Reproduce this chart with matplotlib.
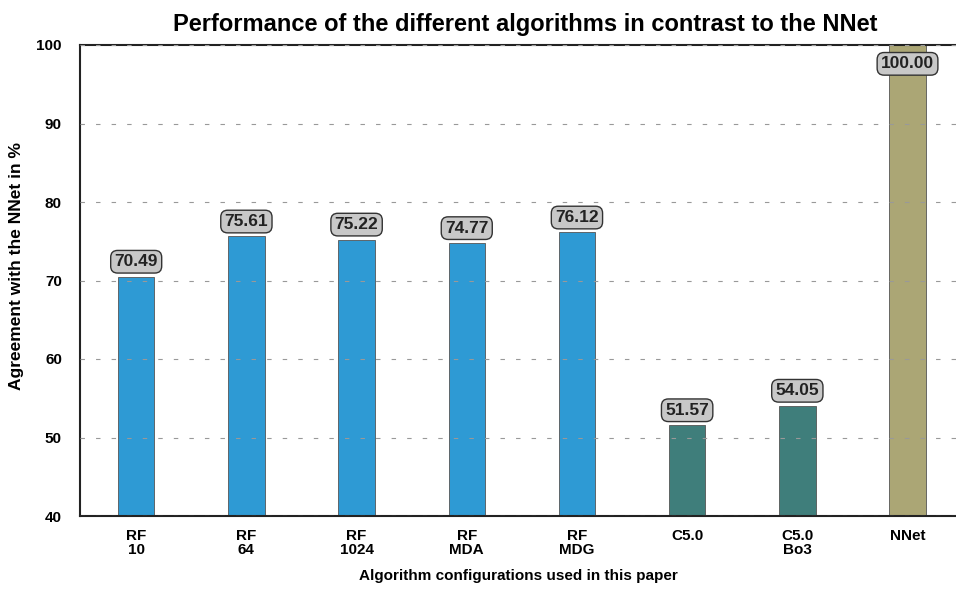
import numpy as np
import matplotlib.pyplot as plt

plt.rcParams['font.family'] = ['Liberation Sans', 'DejaVu Sans']
plt.rcParams['font.weight'] = 'bold'

labels = ['RF\n10', 'RF\n64', 'RF\n1024', 'RF\nMDA', 'RF\nMDG', 'C5.0', 'C5.0\nBo3', 'NNet']
values = [70.49, 75.61, 75.22, 74.77, 76.12, 51.57, 54.05, 100.00]
colors = ['#2E9AD4'] * 5 + ['#3F7E7B'] * 2 + ['#ABA675']

fig = plt.figure(figsize=(9.56, 5.91), dpi=100)
ax = fig.add_axes([80 / 956, 1 - 516 / 591, 1 - 80 / 956, (516 - 45) / 591])

x = np.arange(len(labels))
ax.bar(x, values, width=0.33, color=colors, edgecolor='#555555', linewidth=0.6, zorder=1)
for xi, v in zip(x, values):
    # labels sit just above the bar, but are kept inside the plot area
    ly = min(v + 1.9, 97.6)
    ax.text(xi, ly, f'{v:.2f}', ha='center', va='center', fontsize=12.5, fontweight='bold',
            color='#222222', zorder=5,
            bbox=dict(boxstyle='round,pad=0.22,rounding_size=0.4', fc='#C8C8C8', ec='#333333', lw=1))

ax.set_ylim(40, 100)
ax.set_xlim(-0.51, 7.44)
ax.set_yticks(range(40, 101, 10))
ax.set_xticks(x)
ax.set_xticklabels(labels, linespacing=1.0)
ax.yaxis.grid(True, linestyle=(0, (4, 10)), color='#999999', linewidth=0.8, zorder=3)
ax.set_axisbelow(False)
ax.tick_params(axis='both', length=0, labelsize=11)
ax.tick_params(axis='y', pad=13)
ax.tick_params(axis='x', pad=9)
for s in ['left', 'bottom', 'top']:
    ax.spines[s].set_linewidth(1.5)
    ax.spines[s].set_color('#222222')
ax.spines['right'].set_visible(False)

ax.set_ylabel('Agreement with the NNet in %', fontsize=12.5, fontweight='bold', va='center')
ax.yaxis.set_label_coords(-63 / 876, (516 - 266) / 471)
ax.set_xlabel('Algorithm configurations used in this paper', fontsize=11, fontweight='bold',
              va='center')
ax.xaxis.set_label_coords(0.5, (516 - 576) / 471)
ax.set_title('Performance of the different algorithms in contrast to the NNet', fontsize=17,
             fontweight='bold', pad=10, x=0.508)

fig.savefig('out.png', dpi=100)
